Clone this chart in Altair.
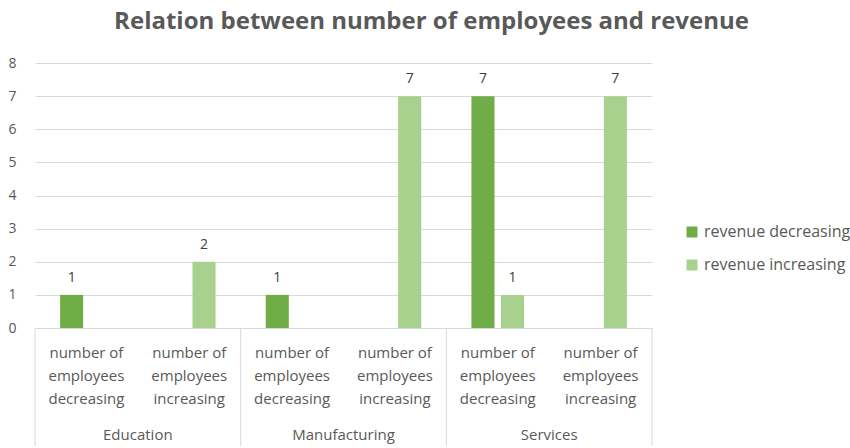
import altair as alt
import pandas as pd

# ---- data ----
sectors = ["Education", "Manufacturing", "Services"]
employee_trends = ["number of employees decreasing", "number of employees increasing"]
trend_labels = ["number of\nemployees\ndecreasing", "number of\nemployees\nincreasing"]
series = ["revenue decreasing", "revenue increasing"]
# values per (sector, employee trend), in reading order
revenue_decreasing = [1, 0, 1, 0, 7, 0]
revenue_increasing = [0, 2, 0, 7, 1, 7]
colors = ["#70AD47", "#A9D18E"]
y_ticks = [0, 1, 2, 3, 4, 5, 6, 7, 8]

# ---- tables ----
keys = []
rows = []
sub_rows = []
for si, s in enumerate(sectors):
    for ti, t in enumerate(employee_trends):
        k = f"{s} | {t}"
        keys.append(k)
        idx = si * len(employee_trends) + ti
        sub_rows.append({"pos": idx + 0.5, "label": trend_labels[ti]})
        rows.append({"key": k, "series": series[0], "value": revenue_decreasing[idx]})
        rows.append({"key": k, "series": series[1], "value": revenue_increasing[idx]})
df = pd.DataFrame(rows)
sub_df = pd.DataFrame(sub_rows)
n_sub = len(keys)
group_df = pd.DataFrame({
    "pos": [(i + 0.5) * len(employee_trends) for i in range(len(sectors))],
    "label": sectors,
})
bound_df = pd.DataFrame({"pos": [i * len(employee_trends) for i in range(len(sectors) + 1)]})

FONT = "Open Sans"
TXT = "#595959"
GRID = "#D9D9D9"
W, H = 617, 265
LAB_H = 118

x_enc = alt.X("key:N", sort=keys, axis=None,
              scale=alt.Scale(paddingInner=0.488, paddingOuter=0.244))
xo_enc = alt.XOffset("series:N", sort=series,
                     scale=alt.Scale(paddingInner=0.22, paddingOuter=0))
y_scale = alt.Scale(domain=[0, 8], nice=False)
y_enc = alt.Y("value:Q", scale=y_scale,
              axis=alt.Axis(values=y_ticks, title=None, domain=False,
                            ticks=False, grid=True, gridColor=GRID, gridWidth=1,
                            labelColor=TXT, labelFontSize=14, labelFont=FONT,
                            labelPadding=19, labelOverlap=False))

bars = alt.Chart(df).mark_bar().encode(
    x=x_enc,
    xOffset=xo_enc,
    y=y_enc,
    color=alt.Color("series:N", sort=series,
                    scale=alt.Scale(domain=series, range=colors),
                    legend=alt.Legend(title=None, orient="none", legendX=649,
                                      legendY=161, symbolType="square",
                                      symbolSize=121, symbolStrokeWidth=0,
                                      labelFontSize=16, labelFont=FONT,
                                      labelColor=TXT, rowPadding=17,
                                      labelOffset=4, padding=0)),
)

values = alt.Chart(df).transform_filter("datum.value > 0").mark_text(
    baseline="alphabetic", dy=-13, fontSize=14, font=FONT, color="#404040"
).encode(
    x=x_enc,
    xOffset=xo_enc,
    y=y_enc,
    text=alt.Text("value:Q"),
)

qx = alt.Scale(domain=[0, n_sub], nice=False, zero=False)

bounds = alt.Chart(bound_df).mark_rule(color=GRID, strokeWidth=1).encode(
    x=alt.X("pos:Q", scale=qx, axis=None),
    y=alt.value(H),
    y2=alt.value(H + LAB_H),
)

sublabels = alt.Chart(sub_df).mark_text(
    lineBreak="\n", lineHeight=23, baseline="middle", align="center",
    fontSize=15, font=FONT, color=TXT
).encode(
    x=alt.X("pos:Q", scale=qx, axis=None),
    y=alt.value(290),
    text="label:N",
)

grouplabels = alt.Chart(group_df).mark_text(
    baseline="middle", align="center", fontSize=15, font=FONT, color=TXT
).encode(
    x=alt.X("pos:Q", scale=qx, axis=None),
    y=alt.value(372),
    text="label:N",
)

chart = alt.layer(
    alt.layer(bars, values),
    bounds, sublabels, grouplabels,
).resolve_scale(x="independent").properties(
    width=W, height=H,
    background="white",
    title=alt.TitleParams("Relation between number of employees and revenue",
                          font=FONT, fontSize=24, fontWeight="bold", color=TXT,
                          anchor="middle", dx=88, offset=22),
    autosize=alt.AutoSizeParams(type="none"),
    padding={"left": 35, "top": 63, "right": 850 - 35 - W, "bottom": 448 - 63 - H},
).configure_view(stroke=None, strokeWidth=0)

chart.save("out.html", embed_options={"renderer": "svg", "actions": False})
